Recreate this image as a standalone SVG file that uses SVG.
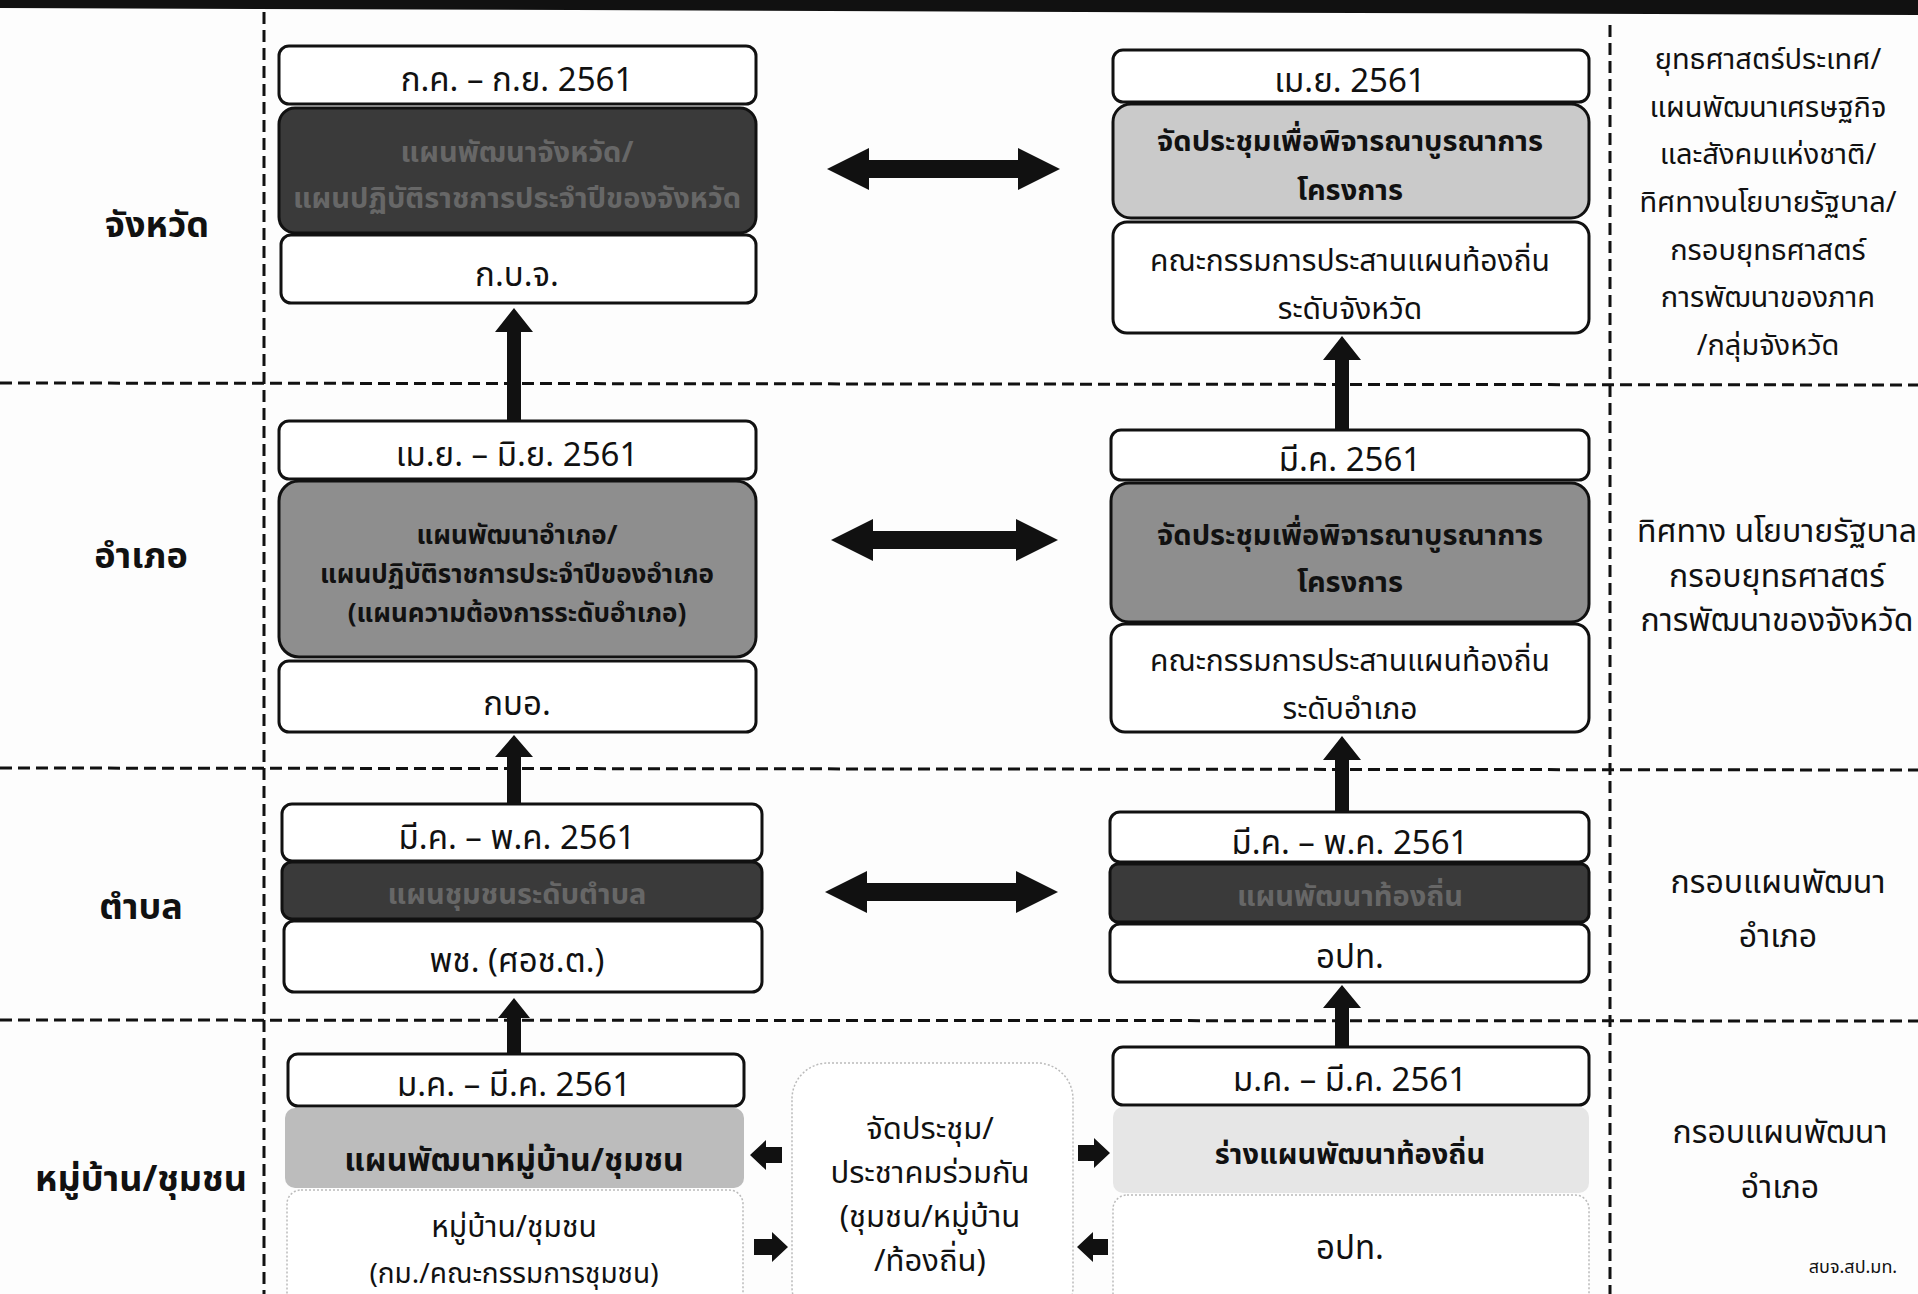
<svg xmlns="http://www.w3.org/2000/svg" width="1918" height="1294" viewBox="0 0 1918 1294">
<style>
text{font-family:"Noto Sans Thai","Noto Sans","DejaVu Sans",sans-serif;text-anchor:middle;dominant-baseline:central;fill:#111}
.lbl{font-size:36px;font-weight:bold}
.date{font-size:33px}
.body{font-size:30px}
.bold{font-size:29px;font-weight:bold}
.side{font-size:29px}
.side2{font-size:32px}
.mtg{font-size:31px}
.small{font-size:18px}
.wbox{fill:#fff;stroke:#111;stroke-width:3}
.dark{fill:#3a3a3a;stroke:#111;stroke-width:3}
.mid{fill:#8e8e8e;stroke:#111;stroke-width:3}
.light{fill:#cacaca;stroke:#111;stroke-width:3}
.faint{fill:#fff;stroke:#bbb;stroke-width:1.5;stroke-dasharray:2 2}
.dtext{fill:#676767;font-weight:bold}
.dash{stroke:#111;stroke-width:3;stroke-dasharray:12 6;fill:none}
.arr{fill:#111}
</style>
<rect width="1918" height="1294" fill="#fdfdfd"/>
<polygon points="0,0 1918,0 1918,15 0,8" fill="#111"/>

<g id="grid">
<line class="dash" x1="0" y1="383" x2="1918" y2="385"/>
<line class="dash" x1="0" y1="768" x2="1918" y2="770"/>
<line class="dash" x1="0" y1="1020" x2="1918" y2="1021"/>
<line class="dash" x1="264" y1="12" x2="264" y2="1294"/>
<line class="dash" x1="1610" y1="25" x2="1610" y2="1294"/>
</g>

<g id="row-labels">
<text class="lbl" x="157" y="226">จังหวัด</text>
<text class="lbl" x="141" y="557">อำเภอ</text>
<text class="lbl" x="141" y="908">ตำบล</text>
<text class="lbl" x="141" y="1180">หมู่บ้าน/ชุมชน</text>
</g>

<g id="node-province-left">
<rect class="wbox" x="279" y="46" width="477" height="58" rx="10"/>
<text class="date" x="517" y="81">ก.ค. – ก.ย. 2561</text>
<rect class="dark" x="279" y="108" width="477" height="125" rx="16"/>
<text class="bold dtext" x="517" y="153">แผนพัฒนาจังหวัด/</text>
<text class="bold dtext" x="517" y="199">แผนปฏิบัติราชการประจำปีของจังหวัด</text>
<rect class="wbox" x="281" y="235" width="475" height="68" rx="10"/>
<text class="date" x="517" y="276">ก.บ.จ.</text>
</g>

<g id="node-amphoe-left">
<rect class="wbox" x="279" y="421" width="477" height="58" rx="10"/>
<text class="date" x="517" y="456">เม.ย. – มิ.ย. 2561</text>
<rect class="mid" x="279" y="481" width="477" height="176" rx="20"/>
<text class="bold" x="517" y="536" style="font-size:26px">แผนพัฒนาอำเภอ/</text>
<text class="bold" x="517" y="575" style="font-size:26px">แผนปฏิบัติราชการประจำปีของอำเภอ</text>
<text class="bold" x="517" y="614" style="font-size:26px">(แผนความต้องการระดับอำเภอ)</text>
<rect class="wbox" x="279" y="661" width="477" height="71" rx="10"/>
<text class="date" x="517" y="705">กบอ.</text>
</g>

<g id="node-tambon-left">
<rect class="wbox" x="282" y="804" width="480" height="57" rx="10"/>
<text class="date" x="517" y="839">มี.ค. – พ.ค. 2561</text>
<rect class="dark" x="282" y="862" width="480" height="57" rx="10"/>
<text class="bold dtext" x="517" y="895">แผนชุมชนระดับตำบล</text>
<rect class="wbox" x="284" y="921" width="478" height="71" rx="10"/>
<text class="date" x="517" y="962">พช. (ศอช.ต.)</text>
</g>

<g id="node-village-left">
<rect class="wbox" x="288" y="1054" width="456" height="52" rx="10"/>
<text class="date" x="514" y="1086">ม.ค. – มี.ค. 2561</text>
<rect x="285" y="1108" width="459" height="80" rx="10" fill="#bcbcbc"/>
<text class="bold" x="514" y="1161" style="font-size:32px">แผนพัฒนาหมู่บ้าน/ชุมชน</text>
<rect class="faint" x="287" y="1190" width="456" height="130" rx="14"/>
<text class="body" x="514" y="1228">หมู่บ้าน/ชุมชน</text>
<text class="body" x="514" y="1274" style="font-size:28px">(กม./คณะกรรมการชุมชน)</text>
</g>

<g id="node-meeting">
<rect class="faint" x="792" y="1063" width="281" height="260" rx="36"/>
<text class="mtg" x="930" y="1129">จัดประชุม/</text>
<text class="mtg" x="930" y="1173">ประชาคมร่วมกัน</text>
<text class="mtg" x="930" y="1217">(ชุมชน/หมู่บ้าน</text>
<text class="mtg" x="930" y="1261">/ท้องถิ่น)</text>
</g>

<g id="node-province-right">
<rect class="wbox" x="1113" y="50" width="476" height="52" rx="10"/>
<text class="date" x="1350" y="82">เม.ย. 2561</text>
<rect class="light" x="1113" y="104" width="476" height="114" rx="18"/>
<text class="bold" x="1350" y="142">จัดประชุมเพื่อพิจารณาบูรณาการ</text>
<text class="bold" x="1350" y="191">โครงการ</text>
<rect class="wbox" x="1113" y="222" width="476" height="111" rx="14"/>
<text class="body" x="1350" y="262">คณะกรรมการประสานแผนท้องถิ่น</text>
<text class="body" x="1350" y="310">ระดับจังหวัด</text>
</g>

<g id="node-amphoe-right">
<rect class="wbox" x="1111" y="430" width="478" height="50" rx="10"/>
<text class="date" x="1350" y="461">มี.ค. 2561</text>
<rect class="mid" x="1111" y="483" width="478" height="139" rx="18"/>
<text class="bold" x="1350" y="536">จัดประชุมเพื่อพิจารณาบูรณาการ</text>
<text class="bold" x="1350" y="583">โครงการ</text>
<rect class="wbox" x="1111" y="624" width="478" height="108" rx="14"/>
<text class="body" x="1350" y="662">คณะกรรมการประสานแผนท้องถิ่น</text>
<text class="body" x="1350" y="710">ระดับอำเภอ</text>
</g>

<g id="node-tambon-right">
<rect class="wbox" x="1110" y="812" width="479" height="50" rx="10"/>
<text class="date" x="1350" y="844">มี.ค. – พ.ค. 2561</text>
<rect class="dark" x="1110" y="864" width="479" height="58" rx="8"/>
<text class="bold dtext" x="1350" y="897">แผนพัฒนาท้องถิ่น</text>
<rect class="wbox" x="1110" y="924" width="479" height="58" rx="10"/>
<text class="date" x="1350" y="958">อปท.</text>
</g>

<g id="node-village-right">
<rect class="wbox" x="1113" y="1047" width="476" height="58" rx="10"/>
<text class="date" x="1350" y="1081">ม.ค. – มี.ค. 2561</text>
<rect x="1113" y="1107" width="476" height="86" rx="10" fill="#e6e6e6"/>
<text class="bold" x="1350" y="1155">ร่างแผนพัฒนาท้องถิ่น</text>
<rect class="faint" x="1113" y="1195" width="476" height="130" rx="14"/>
<text class="date" x="1350" y="1249">อปท.</text>
</g>

<g id="side-notes">
<text class="side" x="1768" y="60">ยุทธศาสตร์ประเทศ/</text>
<text class="side" x="1768" y="108">แผนพัฒนาเศรษฐกิจ</text>
<text class="side" x="1768" y="155">และสังคมแห่งชาติ/</text>
<text class="side" x="1768" y="203">ทิศทางนโยบายรัฐบาล/</text>
<text class="side" x="1768" y="251">กรอบยุทธศาสตร์</text>
<text class="side" x="1768" y="298">การพัฒนาของภาค</text>
<text class="side" x="1768" y="346">/กลุ่มจังหวัด</text>
<text class="side2" x="1777" y="532">ทิศทาง นโยบายรัฐบาล</text>
<text class="side2" x="1777" y="577">กรอบยุทธศาสตร์</text>
<text class="side2" x="1777" y="621">การพัฒนาของจังหวัด</text>
<text class="side2" x="1778" y="883">กรอบแผนพัฒนา</text>
<text class="side2" x="1778" y="937">อำเภอ</text>
<text class="side2" x="1780" y="1133">กรอบแผนพัฒนา</text>
<text class="side2" x="1780" y="1188">อำเภอ</text>
<text class="small" x="1853" y="1267">สบจ.สป.มท.</text>
</g>

<g id="connectors">
<polygon class="arr" points="827,169 869,148 869,160 1018,160 1018,148 1060,169 1018,190 1018,178 869,178 869,190"/>
<polygon class="arr" points="831,540 873,519 873,531 1016,531 1016,519 1058,540 1016,561 1016,549 873,549 873,561"/>
<polygon class="arr" points="825,892 867,871 867,883 1016,883 1016,871 1058,892 1016,913 1016,901 867,901 867,913"/>
<polygon class="arr" points="514,308 533,332 521,332 521,421 507,421 507,332 495,332"/>
<polygon class="arr" points="514,735 533,757 521,757 521,804 507,804 507,757 495,757"/>
<polygon class="arr" points="514,998 530,1018 521,1018 521,1054 507,1054 507,1018 498,1018"/>
<polygon class="arr" points="1342,336 1361,360 1349,360 1349,430 1335,430 1335,360 1323,360"/>
<polygon class="arr" points="1342,736 1361,760 1349,760 1349,812 1335,812 1335,760 1323,760"/>
<polygon class="arr" points="1342,985 1361,1008 1349,1008 1349,1047 1335,1047 1335,1008 1323,1008"/>
<polygon class="arr" points="750,1155 766,1140 766,1147 782,1147 782,1163 766,1163 766,1170"/>
<polygon class="arr" points="788,1247 772,1232 772,1239 754,1239 754,1255 772,1255 772,1262"/>
<polygon class="arr" points="1110,1153 1094,1138 1094,1145 1078,1145 1078,1161 1094,1161 1094,1168"/>
<polygon class="arr" points="1077,1247 1093,1232 1093,1239 1108,1239 1108,1255 1093,1255 1093,1262"/>
</g>
</svg>
